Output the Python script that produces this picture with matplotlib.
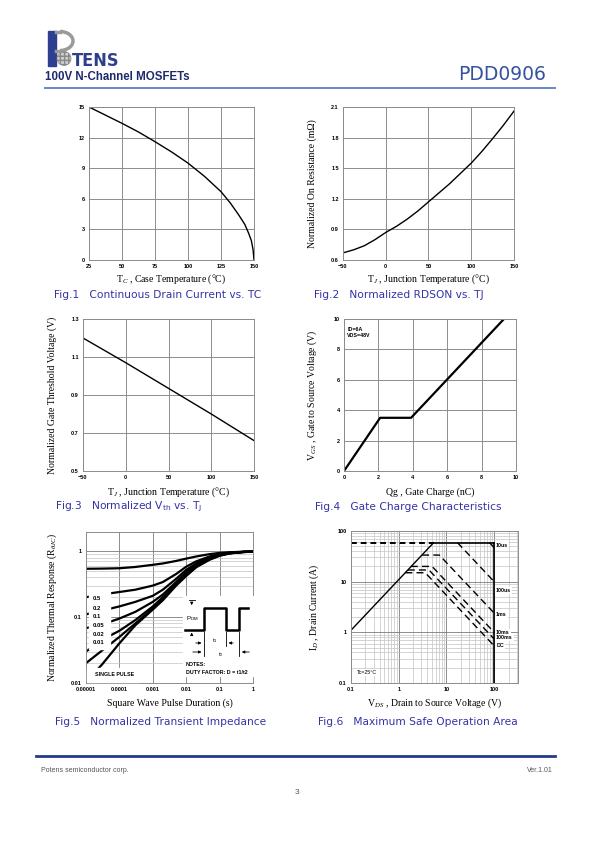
import matplotlib
matplotlib.use('Agg')
import matplotlib.pyplot as plt
import numpy as np
from matplotlib.patches import Rectangle, Circle, Arc
from matplotlib.ticker import LogLocator, NullFormatter

plt.rcParams['mathtext.fontset'] = 'custom'
plt.rcParams['mathtext.rm'] = 'Liberation Serif'
plt.rcParams['mathtext.it'] = 'Liberation Serif:italic'
plt.rcParams['mathtext.bf'] = 'Liberation Sans:bold'

W, H = 595, 842

# ---- data ----
tc = [25, 37.5, 50, 62.5, 75, 87.5, 100, 112.5, 125, 132, 138, 143, 146, 148, 149.3, 150]
id_tc = [15, 14.2, 13.4, 12.55, 11.6, 10.6, 9.5, 8.2, 6.7, 5.6, 4.5, 3.5, 2.6, 1.9, 1.0, 0]

tj_rds = [-50, -37.5, -25, -12.5, 0, 12.5, 25, 37.5, 50, 62.5, 75, 87.5, 100, 112.5, 125, 137.5, 150]
rds_norm = [0.67, 0.70, 0.74, 0.80, 0.87, 0.93, 1.0, 1.08, 1.17, 1.26, 1.35, 1.45, 1.55,
            1.665, 1.79, 1.92, 2.06]

tj_vth = [-50, 0, 50, 100, 150]
vth_norm = [1.20, 1.07, 0.935, 0.80, 0.66]

qg = [0, 2.1, 3.9, 9.3]
vgs = [0, 3.5, 3.5, 10]

t_pulse = [1e-5, 3e-5, 1e-4, 3e-4, 1e-3, 2e-3, 5e-3, 1e-2, 2e-2, 5e-2, 0.1, 0.2, 0.5, 1]
duty_labels = ['0.5', '0.2', '0.1', '0.05', '0.02', '0.01']
zth_d05 = [0.54, 0.543, 0.55, 0.575, 0.62, 0.65, 0.71, 0.77, 0.83, 0.90, 0.94, 0.96, 0.98, 0.99]
zth_d02 = [0.20, 0.22, 0.24, 0.26, 0.30, 0.34, 0.45, 0.58, 0.70, 0.83, 0.91, 0.95, 0.975, 0.985]
zth_d01 = [0.11, 0.125, 0.145, 0.17, 0.21, 0.26, 0.38, 0.52, 0.65, 0.80, 0.89, 0.94, 0.97, 0.98]
zth_d005 = [0.068, 0.077, 0.095, 0.12, 0.17, 0.22, 0.34, 0.48, 0.62, 0.78, 0.88, 0.93, 0.97, 0.98]
zth_d002 = [0.03, 0.045, 0.062, 0.09, 0.145, 0.20, 0.32, 0.45, 0.59, 0.76, 0.87, 0.93, 0.97, 0.98]
zth_d001 = [0.02, 0.031, 0.05, 0.08, 0.135, 0.19, 0.31, 0.43, 0.58, 0.75, 0.86, 0.93, 0.97, 0.98]
zth_single = [0.0105, 0.019, 0.040, 0.075, 0.13, 0.18, 0.30, 0.42, 0.57, 0.74, 0.85, 0.92,
              0.97, 0.98]

soa_ramp_v = [0.1, 5.4]
soa_ramp_i = [1.1, 59]
soa_top_v = [5.4, 100]
soa_top_i = [59, 59]
soa_wall_v = [100, 100]
soa_wall_i = [59, 0.1]
soa_names = ['10us', '100us', '1ms', '10ms', '100ms', 'DC']
soa_start_v = [80, 17, 3.1, 1.8, 1.55, 1.38]
soa_knee_v = [80, 17, 7.1, 5.0, 4.3, 3.6]
soa_level_i = [59, 59, 33.5, 20, 17, 15]
soa_end_i = [47, 10, 2.4, 1.0, 0.74, 0.54]
soa_label_i = [52, 6.6, 2.2, 1.0, 0.78, 0.55]

# pulse sketch in fig.5 (page px)
wave_x = [185, 204.3, 204.3, 225.7, 225.7, 239, 239, 248.3]
wave_y = [629.7, 629.7, 608, 608, 629.7, 629.7, 608, 608]

fig = plt.figure(figsize=(5.95, 8.42), dpi=100)

TICKF = dict(family='Liberation Sans', weight='bold', size=4)
LABF = ['Liberation Serif', 'DejaVu Serif']
GRID = '#8c8c8c'


def page_axes(x0, y0, x1, y1):
    return fig.add_axes([x0 / W, 1 - y1 / H, (x1 - x0) / W, (y1 - y0) / H])


def style(ax, box, xlab, ylab, xlab_y, ylab_x, log=False):
    x0, y0, x1, y1 = box
    ax.tick_params(which='both', length=0, pad=3)
    for lab in ax.get_xticklabels() + ax.get_yticklabels():
        lab.set_fontproperties(matplotlib.font_manager.FontProperties(**TICKF))
    for s in ax.spines.values():
        s.set_color(GRID)
        s.set_linewidth(0.7)
    if log:
        ax.grid(True, which='major', color='#7a7a7a', lw=0.6)
        ax.grid(True, which='minor', color='#c4c4c4', lw=0.5)
    else:
        ax.grid(True, color=GRID, lw=0.7)
    ax.set_axisbelow(True)
    ax.set_xlabel(xlab, family=LABF, size=7, va='center')
    ax.xaxis.set_label_coords(0.5, -(xlab_y - y1) / (y1 - y0))
    if ylab:
        ax.set_ylabel(ylab, family=LABF, size=7, va='center')
        ax.yaxis.set_label_coords(-(x0 - ylab_x) / (x1 - x0), 0.5)


# Fig.1
b1 = (89, 107, 254, 260)
ax1 = page_axes(*b1)
ax1.plot(tc, id_tc, color='black', lw=1.0)
ax1.set_xlim(25, 150)
ax1.set_ylim(0, 15)
ax1.set_xticks([25, 50, 75, 100, 125, 150])
ax1.set_yticks([0, 3, 6, 9, 12, 15])
style(ax1, b1, 'T$_C$ , Case Temperature (\u00b0C)', None, 279, None)

# Fig.2
b2 = (343, 107, 514, 260)
ax2 = page_axes(*b2)
ax2.plot(tj_rds, rds_norm, color='black', lw=1.0)
ax2.set_xlim(-50, 150)
ax2.set_ylim(0.6, 2.1)
ax2.set_xticks([-50, 0, 50, 100, 150])
ax2.set_yticks([0.6, 0.9, 1.2, 1.5, 1.8, 2.1])
style(ax2, b2, 'T$_J$ , Junction Temperature (\u00b0C)',
      'Normalized On Resistance (m\u03a9)', 279, 312)

# Fig.3
b3 = (83, 319, 254, 471)
ax3 = page_axes(*b3)
ax3.plot(tj_vth, vth_norm, color='black', lw=1.0)
ax3.set_xlim(-50, 150)
ax3.set_ylim(0.5, 1.3)
ax3.set_xticks([-50, 0, 50, 100, 150])
ax3.set_yticks([0.5, 0.7, 0.9, 1.1, 1.3])
style(ax3, b3, 'T$_J$ , Junction Temperature (\u00b0C)',
      'Normalized Gate Threshold Voltage (V)', 492, 52)

# Fig.4
b4 = (344, 319, 516, 471)
ax4 = page_axes(*b4)
ax4.plot(qg, vgs, color='black', lw=1.6)
ax4.set_xlim(0, 10)
ax4.set_ylim(0, 10)
ax4.set_xticks([0, 2, 4, 6, 8, 10])
ax4.set_yticks([0, 2, 4, 6, 8, 10])
ax4.text(0.02, 0.95, 'ID=6A\nVDS=48V', transform=ax4.transAxes, va='top',
         family='Liberation Sans', weight='bold', size=3.8, linespacing=1.4)
style(ax4, b4, 'Qg , Gate Charge (nC)',
      'V$_{GS}$ , Gate to Source Voltage (V)', 492, 312)

# Fig.5
b5 = (86, 532, 253, 683)
ax5 = page_axes(*b5)
for z in [zth_d05, zth_d02, zth_d01, zth_d005, zth_d002, zth_d001, zth_single]:
    ax5.plot(t_pulse, z, color='black', lw=1.6)
ax5.set_xscale('log')
ax5.set_yscale('log')
ax5.set_xlim(1e-5, 1)
ax5.set_ylim(0.01, 1.95)
ax5.set_xticks([1e-5, 1e-4, 1e-3, 1e-2, 0.1, 1])
ax5.set_xticklabels(['0.00001', '0.0001', '0.001', '0.01', '0.1', '1'])
ax5.set_yticks([0.01, 0.1, 1])
ax5.set_yticklabels(['0.01', '0.1', '1'])
for a in (ax5.xaxis, ax5.yaxis):
    a.set_minor_locator(LogLocator(base=10, subs=np.arange(2, 10)))
    a.set_minor_formatter(NullFormatter())
style(ax5, b5, 'Square Wave Pulse Duration (s)',
      'Normalized Thermal Response (R$_{\u03b8JC}$)', 703, 52, log=True)

# Fig.6
b6 = (351, 531, 518, 683)
ax6 = page_axes(*b6)
ax6.plot(soa_ramp_v, soa_ramp_i, color='black', lw=1.0)
ax6.plot(soa_top_v, soa_top_i, color='black', lw=1.2)
ax6.plot(soa_wall_v, soa_wall_i, color='black', lw=1.2)
ax6.plot([soa_ramp_v[0], soa_ramp_v[1]], [soa_top_i[0], soa_top_i[0]], color='black',
         lw=1.4, dashes=(3, 2))
for v0, vk, lv, ie in zip(soa_start_v, soa_knee_v, soa_level_i, soa_end_i):
    ax6.plot([v0, vk, 100], [lv, lv, ie], color='black', lw=1.0, dashes=(5, 3))
ax6.set_xscale('log')
ax6.set_yscale('log')
ax6.set_xlim(0.1, 316)
ax6.set_ylim(0.1, 100)
ax6.set_xticks([0.1, 1, 10, 100])
ax6.set_xticklabels(['0.1', '1', '10', '100'])
ax6.set_yticks([0.1, 1, 10, 100])
ax6.set_yticklabels(['0.1', '1', '10', '100'])
for a in (ax6.xaxis, ax6.yaxis):
    a.set_minor_locator(LogLocator(base=10, subs=np.arange(2, 10)))
    a.set_minor_formatter(NullFormatter())
for name, ie in zip(soa_names, soa_label_i):
    ax6.text(110, ie, name, va='center', ha='left', family='Liberation Sans',
             weight='bold', size=3.8,
             bbox=dict(facecolor='white', edgecolor='none', pad=0.6))
ax6.text(0.13, 0.16, 'Tc=25\u00b0C', va='center', family='Liberation Sans', size=3.8,
         bbox=dict(facecolor='white', edgecolor='none', pad=0.6))
style(ax6, b6, 'V$_{DS}$ , Drain to Source Voltage (V)',
      'I$_D$ , Drain Current (A)', 703, 314, log=True)

# ---- page overlay: header, captions, footer, fig.5 notes ----
ov = fig.add_axes([0, 0, 1, 1])
ov.set_xlim(0, W)
ov.set_ylim(H, 0)
ov.axis('off')
ov.set_zorder(10)
ov.patch.set_alpha(0)

navy = '#2f3f8f'
ov.add_patch(Rectangle((47.5, 31), 8.5, 35, color=navy))
ov.add_patch(Arc((60, 41), 26, 19, theta1=-90, theta2=90, color='#9a9a9a', lw=2.5))
ov.plot([56, 60], [31.5, 31.5], color='#9a9a9a', lw=2.5)
ov.plot([56, 60], [50.5, 50.5], color='#9a9a9a', lw=2.5)
ov.add_patch(Circle((64, 58.5), 7, facecolor='#d0d0d0', edgecolor='#888888',
                    hatch='++++', lw=0.5))
ov.text(71.5, 66, 'TENS', color=navy, family='DejaVu Sans', weight='bold', size=13,
        va='baseline', ha='left', fontstretch='condensed')
ov.text(45, 76.5, '100V N-Channel MOSFETs', color='#1c2a6e', family='Liberation Sans',
        weight='bold', size=8.3, va='center')
ov.text(546, 74, 'PDD0906', color='#3552a0', family='DejaVu Sans', size=13.5,
        va='center', ha='right')
ov.plot([45, 555], [88, 88], color='#6a86c8', lw=1.4)

capc = '#3333a6'
capf = dict(family='DejaVu Sans', size=7.7, color=capc, va='center')
ov.text(54, 294.5, 'Fig.1   Continuous Drain Current vs. TC', **capf)
ov.text(314, 294.5, 'Fig.2   Normalized RDSON vs. TJ', **capf)
ov.text(55, 507, 'Fig.3   Normalized V$_{\\mathregular{th}}$ vs. T$_{\\mathregular{J}}$', **capf)
ov.text(315, 507, 'Fig.4   Gate Charge Characteristics', **capf)
ov.text(55, 722, 'Fig.5   Normalized Transient Impedance', **capf)
ov.text(318, 722, 'Fig.6   Maximum Safe Operation Area', **capf)

# fig.5 label boxes
ov.add_patch(Rectangle((89, 592), 21, 57, color='white'))
for lab, yy in zip(duty_labels, [599, 608, 616.7, 625.7, 634, 643]):
    ov.text(93, yy, lab, family='Liberation Sans', weight='bold', size=4.2, va='center')
ov.add_patch(Rectangle((87, 667.5), 52, 14.5, color='white'))
ov.text(95, 674.5, 'SINGLE PULSE', family='Liberation Sans', weight='bold', size=3.8,
        va='center')
ov.add_patch(Rectangle((183, 596), 70, 80, color='white'))
ov.plot(wave_x, wave_y, color='black', lw=1.8)
ov.text(186, 619, 'P$_{\\mathregular{DM}}$', family='Liberation Sans', size=4.5, va='center')
ap = dict(arrowstyle='-|>', color='black', lw=0.6, mutation_scale=4)
ov.plot([188.5, 195], [599.7, 599.7], color='black', lw=0.6)
ov.annotate('', xy=(191.7, 608), xytext=(191.7, 599.7), arrowprops=ap)
ov.annotate('', xy=(191.7, 629.7), xytext=(191.7, 638), arrowprops=ap)
for xx, y_end in [(204.3, 656), (225.7, 646), (239, 656)]:
    ov.plot([xx, xx], [632, y_end], color='black', lw=0.6)
ov.annotate('', xy=(204.3, 643), xytext=(193, 643), arrowprops=ap)
ov.annotate('', xy=(225.7, 643), xytext=(236, 643), arrowprops=ap)
ov.annotate('', xy=(204.3, 652), xytext=(190, 652), arrowprops=ap)
ov.annotate('', xy=(239, 652), xytext=(252, 652), arrowprops=ap)
ov.text(214.5, 641, 't$_1$', family='Liberation Sans', size=4.5, ha='center', va='center')
ov.text(221, 655, 't$_2$', family='Liberation Sans', size=4.5, ha='center', va='center')
ov.text(186, 664, 'NOTES:', family='Liberation Sans', weight='bold', size=3.8, va='center')
ov.text(186, 672, 'DUTY FACTOR: D = t1/t2', family='Liberation Sans', weight='bold',
        size=3.8, va='center')

# footer
ov.plot([36, 555], [756, 756], color='#243a8a', lw=2)
ov.text(41, 770, 'Potens semiconductor corp.', family='Liberation Sans', size=5,
        color='#555555', va='center')
ov.text(553, 770, 'Ver.1.01', family='Liberation Sans', size=5, color='#555555',
        va='center', ha='right')
ov.text(297, 792, '3', family='Liberation Sans', size=6, color='#555555',
        va='center', ha='center')

plt.savefig('out.png', dpi=100)
